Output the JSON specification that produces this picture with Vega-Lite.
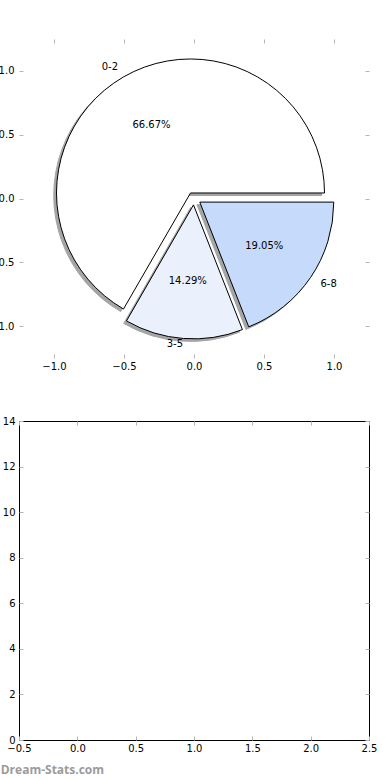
{
  "$schema": "https://vega.github.io/schema/vega-lite/v6.json",
  "padding": {"left": -11, "top": 38, "right": 0, "bottom": 0},
  "spacing": 44,
  "background": "#ffffff",
  "config": {"font": "DejaVu Sans"},
  "title": {"text": "Dream-Stats.com", "orient": "bottom", "anchor": "start", "frame": "bounds", "offset": 11, "dx": 11, "font": "Open Sans", "fontSize": 12, "fontWeight": "bold", "color": "#9b9b9b"},
  "datasets": {
    "pie": [
      {"label": "0-2", "count": 14, "share": 0.6667},
      {"label": "3-5", "count": 3, "share": 0.1429},
      {"label": "6-8", "count": 4, "share": 0.1905}
    ]
  },
  "vconcat": [
    {
      "width": 350,
      "height": 319,
      "view": {"stroke": null},
      "data": {"name": "pie"},
      "layer": [
        {"mark": {"type": "arc", "radius": 134, "fill": "#4d4d4d", "stroke": "#4d4d4d", "strokeWidth": 1},
         "encoding": {
           "theta": {"field": "count", "type": "quantitative", "stack": true, "scale": {"range": [1.5708, 7.854]}},
           "order": {"field": "label", "sort": "descending"},
           "x": {"datum": -0.045, "type": "quantitative", "scale": {"domain": [-1.25, 1.25], "nice": false, "zero": false}, "axis": null},
           "y": {"datum": 0.0233, "type": "quantitative", "scale": {"domain": [-1.25, 1.25], "nice": false, "zero": false}, "axis": null},
           "opacity": {"condition": {"test": "datum.label === '0-2'", "value": 0.5}, "value": 0}}},
        {"mark": {"type": "arc", "radius": 134, "fill": "#4d4d4d", "stroke": "#4d4d4d", "strokeWidth": 1},
         "encoding": {
           "theta": {"field": "count", "type": "quantitative", "stack": true, "scale": {"range": [1.5708, 7.854]}},
           "order": {"field": "label", "sort": "descending"},
           "x": {"datum": -0.0237, "type": "quantitative", "scale": {"domain": [-1.25, 1.25], "nice": false, "zero": false}, "axis": null},
           "y": {"datum": -0.0699, "type": "quantitative", "scale": {"domain": [-1.25, 1.25], "nice": false, "zero": false}, "axis": null},
           "opacity": {"condition": {"test": "datum.label === '3-5'", "value": 0.5}, "value": 0}}},
        {"mark": {"type": "arc", "radius": 134, "fill": "#4d4d4d", "stroke": "#4d4d4d", "strokeWidth": 1},
         "encoding": {
           "theta": {"field": "count", "type": "quantitative", "stack": true, "scale": {"range": [1.5708, 7.854]}},
           "order": {"field": "label", "sort": "descending"},
           "x": {"datum": 0.0213, "type": "quantitative", "scale": {"domain": [-1.25, 1.25], "nice": false, "zero": false}, "axis": null},
           "y": {"datum": -0.0482, "type": "quantitative", "scale": {"domain": [-1.25, 1.25], "nice": false, "zero": false}, "axis": null},
           "opacity": {"condition": {"test": "datum.label === '6-8'", "value": 0.5}, "value": 0}}},
        {"mark": {"type": "arc", "radius": 134, "stroke": "#000000", "strokeWidth": 1},
         "encoding": {
           "theta": {"field": "count", "type": "quantitative", "stack": true, "scale": {"range": [1.5708, 7.854]}},
           "order": {"field": "label", "sort": "descending"},
           "x": {"datum": -0.025, "type": "quantitative", "scale": {"domain": [-1.25, 1.25], "nice": false, "zero": false},
                 "axis": {"orient": "bottom", "values": [-1, -0.5, 0, 0.5, 1], "format": ".1f", "domain": false, "grid": false, "tickSize": 4, "offset": -4, "tickColor": "#b5b5b5", "tickWidth": 1, "labelPadding": 3, "labelFontSize": 10, "labelFont": "DejaVu Sans", "labelColor": "#000000", "labelFlush": false, "labelOverlap": false, "title": null}},
           "y": {"datum": 0.0433, "type": "quantitative", "scale": {"domain": [-1.25, 1.25], "nice": false, "zero": false},
                 "axis": {"orient": "left", "values": [-1, -0.5, 0, 0.5, 1], "format": ".1f", "domain": false, "grid": false, "tickSize": 4, "offset": -4, "tickColor": "#b5b5b5", "tickWidth": 1, "labelPadding": 5, "labelFontSize": 10, "labelFont": "DejaVu Sans", "labelColor": "#000000", "labelFlush": false, "labelOverlap": false, "title": null}},
           "fill": {"field": "label", "type": "nominal", "scale": {"domain": ["0-2", "3-5", "6-8"], "range": ["#ffffff", "#eaf1fd", "#c6dafc"]}, "legend": null},
           "opacity": {"condition": {"test": "datum.label === '0-2'", "value": 1}, "value": 0}}},
        {"mark": {"type": "arc", "radius": 134, "stroke": "#000000", "strokeWidth": 1},
         "encoding": {
           "theta": {"field": "count", "type": "quantitative", "stack": true, "scale": {"range": [1.5708, 7.854]}},
           "order": {"field": "label", "sort": "descending"},
           "x": {"datum": -0.0037, "type": "quantitative", "scale": {"domain": [-1.25, 1.25], "nice": false, "zero": false},
                 "axis": {"orient": "top", "values": [-1, -0.5, 0, 0.5, 1], "domain": false, "grid": false, "tickSize": 4, "offset": -4, "tickColor": "#b5b5b5", "tickWidth": 1, "labels": false, "title": null}},
           "y": {"datum": -0.0499, "type": "quantitative", "scale": {"domain": [-1.25, 1.25], "nice": false, "zero": false},
                 "axis": {"orient": "right", "values": [-1, -0.5, 0, 0.5, 1], "domain": false, "grid": false, "tickSize": 4, "offset": -4, "tickColor": "#b5b5b5", "tickWidth": 1, "labels": false, "title": null}},
           "fill": {"field": "label", "type": "nominal", "scale": {"domain": ["0-2", "3-5", "6-8"], "range": ["#ffffff", "#eaf1fd", "#c6dafc"]}, "legend": null},
           "opacity": {"condition": {"test": "datum.label === '3-5'", "value": 1}, "value": 0}}},
        {"mark": {"type": "arc", "radius": 134, "stroke": "#000000", "strokeWidth": 1},
         "encoding": {
           "theta": {"field": "count", "type": "quantitative", "stack": true, "scale": {"range": [1.5708, 7.854]}},
           "order": {"field": "label", "sort": "descending"},
           "x": {"datum": 0.0413, "type": "quantitative", "scale": {"domain": [-1.25, 1.25], "nice": false, "zero": false}, "axis": null},
           "y": {"datum": -0.0282, "type": "quantitative", "scale": {"domain": [-1.25, 1.25], "nice": false, "zero": false}, "axis": null},
           "fill": {"field": "label", "type": "nominal", "scale": {"domain": ["0-2", "3-5", "6-8"], "range": ["#ffffff", "#eaf1fd", "#c6dafc"]}, "legend": null},
           "opacity": {"condition": {"test": "datum.label === '6-8'", "value": 1}, "value": 0}}},
        {"mark": {"type": "text", "radius": 145, "align": "right", "baseline": "middle", "fontSize": 10, "font": "DejaVu Sans", "fill": "#000000"},
         "encoding": {
           "theta": {"field": "count", "type": "quantitative", "stack": true, "scale": {"range": [1.5708, 7.854]}},
           "order": {"field": "label", "sort": "descending"},
           "x": {"datum": -0.025, "type": "quantitative", "scale": {"domain": [-1.25, 1.25], "nice": false, "zero": false}, "axis": null},
           "y": {"datum": 0.0433, "type": "quantitative", "scale": {"domain": [-1.25, 1.25], "nice": false, "zero": false}, "axis": null},
           "text": {"field": "label", "type": "nominal"},
           "opacity": {"condition": {"test": "datum.label === '0-2'", "value": 1}, "value": 0}}},
        {"mark": {"type": "text", "radius": 140, "align": "right", "baseline": "middle", "fontSize": 10, "font": "DejaVu Sans", "fill": "#000000"},
         "encoding": {
           "theta": {"field": "count", "type": "quantitative", "stack": true, "scale": {"range": [1.5708, 7.854]}},
           "order": {"field": "label", "sort": "descending"},
           "x": {"datum": -0.0037, "type": "quantitative", "scale": {"domain": [-1.25, 1.25], "nice": false, "zero": false}, "axis": null},
           "y": {"datum": -0.0499, "type": "quantitative", "scale": {"domain": [-1.25, 1.25], "nice": false, "zero": false}, "axis": null},
           "text": {"field": "label", "type": "nominal"},
           "opacity": {"condition": {"test": "datum.label === '3-5'", "value": 1}, "value": 0}}},
        {"mark": {"type": "text", "radius": 146, "align": "left", "baseline": "middle", "fontSize": 10, "font": "DejaVu Sans", "fill": "#000000"},
         "encoding": {
           "theta": {"field": "count", "type": "quantitative", "stack": true, "scale": {"range": [1.5708, 7.854]}},
           "order": {"field": "label", "sort": "descending"},
           "x": {"datum": 0.0413, "type": "quantitative", "scale": {"domain": [-1.25, 1.25], "nice": false, "zero": false}, "axis": null},
           "y": {"datum": -0.0282, "type": "quantitative", "scale": {"domain": [-1.25, 1.25], "nice": false, "zero": false}, "axis": null},
           "text": {"field": "label", "type": "nominal"},
           "opacity": {"condition": {"test": "datum.label === '6-8'", "value": 1}, "value": 0}}},
        {"mark": {"type": "text", "radius": 78, "align": "center", "baseline": "middle", "fontSize": 10, "font": "DejaVu Sans", "fill": "#000000"},
         "encoding": {
           "theta": {"field": "count", "type": "quantitative", "stack": true, "scale": {"range": [1.5708, 7.854]}},
           "order": {"field": "label", "sort": "descending"},
           "x": {"datum": -0.025, "type": "quantitative", "scale": {"domain": [-1.25, 1.25], "nice": false, "zero": false}, "axis": null},
           "y": {"datum": 0.0433, "type": "quantitative", "scale": {"domain": [-1.25, 1.25], "nice": false, "zero": false}, "axis": null},
           "text": {"field": "share", "type": "quantitative", "format": ".2%"},
           "opacity": {"condition": {"test": "datum.label === '0-2'", "value": 1}, "value": 0}}},
        {"mark": {"type": "text", "radius": 76, "align": "center", "baseline": "middle", "fontSize": 10, "font": "DejaVu Sans", "fill": "#000000"},
         "encoding": {
           "theta": {"field": "count", "type": "quantitative", "stack": true, "scale": {"range": [1.5708, 7.854]}},
           "order": {"field": "label", "sort": "descending"},
           "x": {"datum": -0.0037, "type": "quantitative", "scale": {"domain": [-1.25, 1.25], "nice": false, "zero": false}, "axis": null},
           "y": {"datum": -0.0499, "type": "quantitative", "scale": {"domain": [-1.25, 1.25], "nice": false, "zero": false}, "axis": null},
           "text": {"field": "share", "type": "quantitative", "format": ".2%"},
           "opacity": {"condition": {"test": "datum.label === '3-5'", "value": 1}, "value": 0}}},
        {"mark": {"type": "text", "radius": 78, "align": "center", "baseline": "middle", "fontSize": 10, "font": "DejaVu Sans", "fill": "#000000"},
         "encoding": {
           "theta": {"field": "count", "type": "quantitative", "stack": true, "scale": {"range": [1.5708, 7.854]}},
           "order": {"field": "label", "sort": "descending"},
           "x": {"datum": 0.0413, "type": "quantitative", "scale": {"domain": [-1.25, 1.25], "nice": false, "zero": false}, "axis": null},
           "y": {"datum": -0.0282, "type": "quantitative", "scale": {"domain": [-1.25, 1.25], "nice": false, "zero": false}, "axis": null},
           "text": {"field": "share", "type": "quantitative", "format": ".2%"},
           "opacity": {"condition": {"test": "datum.label === '6-8'", "value": 1}, "value": 0}}}
      ],
      "resolve": {"axis": {"x": "independent", "y": "independent"}}
    },
    {
      "width": 350,
      "height": 319,
      "view": {"stroke": "#000000", "strokeWidth": 1},
      "data": {"name": "pie"},
      "layer": [
        {"mark": {"type": "point", "opacity": 0},
         "encoding": {
           "x": {"datum": 0, "type": "quantitative", "scale": {"domain": [-0.5, 2.5], "nice": false, "zero": false},
                 "axis": {"orient": "bottom", "values": [-0.5, 0, 0.5, 1, 1.5, 2, 2.5], "format": ".1f", "domain": false, "grid": false, "tickSize": 4, "offset": -4, "tickColor": "#b5b5b5", "tickWidth": 1, "labelPadding": 3, "labelFontSize": 10, "labelFont": "DejaVu Sans", "labelColor": "#000000", "labelFlush": false, "labelOverlap": false, "title": null}},
           "y": {"datum": 0, "type": "quantitative", "scale": {"domain": [0, 14], "nice": false},
                 "axis": {"orient": "left", "values": [0, 2, 4, 6, 8, 10, 12, 14], "format": "d", "domain": false, "grid": false, "tickSize": 4, "offset": -4, "tickColor": "#b5b5b5", "tickWidth": 1, "labelPadding": 4, "labelFontSize": 10, "labelFont": "DejaVu Sans", "labelColor": "#000000", "labelFlush": false, "labelOverlap": false, "title": null}}}},
        {"mark": {"type": "point", "opacity": 0},
         "encoding": {
           "x": {"datum": 0, "type": "quantitative", "scale": {"domain": [-0.5, 2.5], "nice": false, "zero": false},
                 "axis": {"orient": "top", "values": [-0.5, 0, 0.5, 1, 1.5, 2, 2.5], "domain": false, "grid": false, "tickSize": 4, "offset": -4, "tickColor": "#b5b5b5", "tickWidth": 1, "labels": false, "title": null}},
           "y": {"datum": 0, "type": "quantitative", "scale": {"domain": [0, 14], "nice": false},
                 "axis": {"orient": "right", "values": [0, 2, 4, 6, 8, 10, 12, 14], "domain": false, "grid": false, "tickSize": 4, "offset": -4, "tickColor": "#b5b5b5", "tickWidth": 1, "labels": false, "title": null}}}}
      ],
      "resolve": {"axis": {"x": "independent", "y": "independent"}}
    }
  ]
}
